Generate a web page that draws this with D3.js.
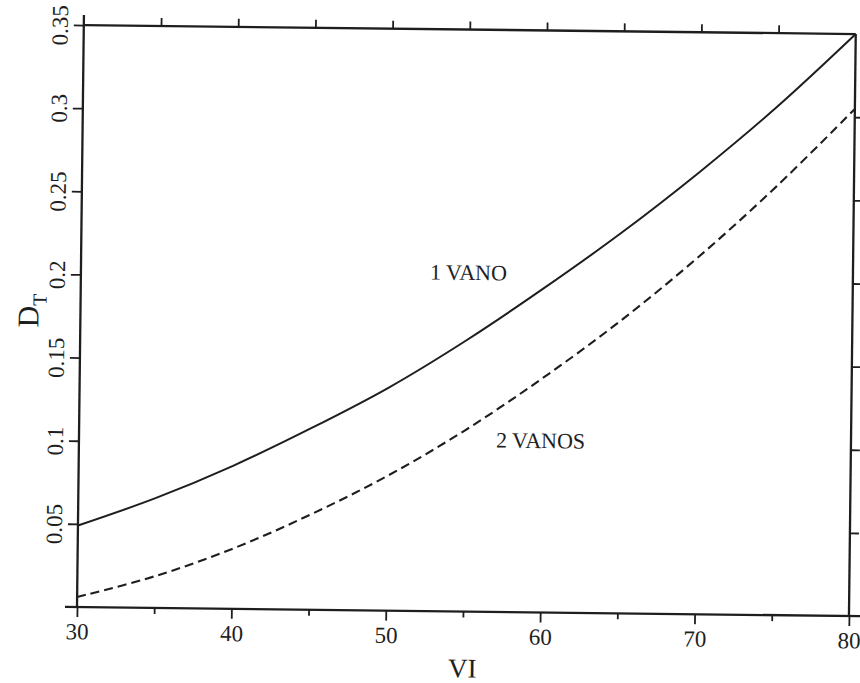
<!DOCTYPE html>
<html>
<head>
<meta charset="utf-8">
<script src="https://cdn.jsdelivr.net/npm/d3@7"></script>
<style>
  html, body { margin: 0; padding: 0; background: #fff; }
  svg { display: block; }
  text { font-family: "Liberation Serif", "DejaVu Serif", serif; fill: #1e1e1e; }
</style>
</head>
<body>
<div id="chart"></div>
<script>
// VI values at which D_T was evaluated
const vi = [30, 35, 40, 45, 50, 55, 60, 65, 70, 75, 80];
// D_T for a single span ("1 VANO")
const dt1Vano = [0.049, 0.066, 0.086, 0.109, 0.134, 0.163, 0.195, 0.229, 0.266, 0.306, 0.350];
// D_T for two spans ("2 VANOS")
const dt2Vanos = [0.006, 0.019, 0.036, 0.057, 0.081, 0.109, 0.141, 0.176, 0.215, 0.258, 0.305];

const xTicks = [30, 40, 50, 60, 70, 80];
const xMinorTicks = [35, 45, 55, 65, 75];
const yTicks = [0.05, 0.1, 0.15, 0.2, 0.25, 0.3, 0.35];
const yTickLabels = ["0.05", "0.1", "0.15", "0.2", "0.25", "0.3", "0.35"];

const W = 860, H = 683;
const plotW = 772, plotH = 582;
const ink = "#1e1e1e";

const svg = d3.select("#chart").append("svg")
  .attr("width", W).attr("height", H);

// the whole frame sits slightly skewed on the page
const g = svg.append("g")
  .attr("transform", "translate(77,607) rotate(0.67) translate(0,-582)");

const x = d3.scaleLinear().domain([30, 80]).range([0, plotW]);
const y = d3.scaleLinear().domain([0, 0.35]).range([plotH, 0]);

// ---- frame lines ----
const frame = g.append("g").attr("stroke", ink).attr("stroke-width", 2.3).attr("fill", "none");
frame.append("line").attr("x1", -12).attr("x2", plotW + 14).attr("y1", plotH).attr("y2", plotH); // bottom
frame.append("line").attr("x1", 0).attr("x2", 0).attr("y1", -10).attr("y2", plotH);             // left
frame.append("line").attr("x1", 0).attr("x2", plotW).attr("y1", 0).attr("y2", 0);                // top
frame.append("line").attr("x1", plotW).attr("x2", plotW).attr("y1", 0).attr("y2", plotH);        // right

// ---- bottom axis ----
const xAxis = d3.axisBottom(x).tickValues(xTicks).tickSize(10).tickPadding(6).tickFormat(d3.format("d"));
const xa = g.append("g").attr("transform", `translate(0,${plotH})`).call(xAxis);
xa.select(".domain").remove();
xa.selectAll(".tick line").attr("stroke", ink).attr("stroke-width", 1.8);
xa.selectAll(".tick text").attr("font-size", 23).attr("font-family", "Liberation Serif").attr("fill", ink);

const xMinor = d3.axisBottom(x).tickValues(xMinorTicks).tickSize(6).tickFormat("");
const xm = g.append("g").attr("transform", `translate(0,${plotH})`).call(xMinor);
xm.select(".domain").remove();
xm.selectAll(".tick line").attr("stroke", ink).attr("stroke-width", 1.8);

// ---- top ticks ----
const xTop = d3.axisTop(x).tickValues([35, 40, 45, 50, 55, 60, 65, 70, 75]).tickSize(8).tickFormat("");
const xt = g.append("g").call(xTop);
xt.select(".domain").remove();
xt.selectAll(".tick line").attr("stroke", ink).attr("stroke-width", 1.8);

// ---- left axis ----
const yAxis = d3.axisLeft(y).tickValues(yTicks).tickSize(10).tickPadding(4)
  .tickFormat((d, i) => yTickLabels[i]);
const ya = g.append("g").call(yAxis);
ya.select(".domain").remove();
ya.selectAll(".tick line").attr("stroke", ink).attr("stroke-width", 1.8);
ya.selectAll(".tick text")
  .attr("font-size", 23).attr("font-family", "Liberation Serif").attr("fill", ink)
  .attr("text-anchor", "middle")
  .attr("transform", "rotate(-90)")
  .attr("x", 0).attr("y", -16).attr("dy", 0);

// ---- right ticks ----
const yRight = d3.axisRight(y).tickValues([0.05, 0.1, 0.15, 0.2, 0.25, 0.3]).tickSize(9).tickFormat("");
const yr = g.append("g").attr("transform", `translate(${plotW},0)`).call(yRight);
yr.select(".domain").remove();
yr.selectAll(".tick line").attr("stroke", ink).attr("stroke-width", 1.8);

// ---- curves ----
const line = (vals) => d3.line()
  .x((d, i) => x(vi[i]))
  .y(d => y(d))
  .curve(d3.curveCatmullRom.alpha(0.5))(vals);

g.append("path").attr("d", line(dt1Vano))
  .attr("fill", "none").attr("stroke", ink).attr("stroke-width", 2);
g.append("path").attr("d", line(dt2Vanos))
  .attr("fill", "none").attr("stroke", ink).attr("stroke-width", 2.1)
  .attr("stroke-dasharray", "9,5");

// ---- curve labels ----
g.append("text").attr("x", x(55.1)).attr("y", y(0.2)).attr("dy", 1)
  .attr("font-size", 22).attr("text-anchor", "middle").text("1 VANO");
g.append("text").attr("x", x(59.9)).attr("y", y(0.1)).attr("dy", 2)
  .attr("font-size", 22).attr("text-anchor", "middle").text("2 VANOS");

// ---- axis titles ----
g.append("text").attr("x", x(55)).attr("y", plotH + 66)
  .attr("font-size", 27).attr("text-anchor", "middle").text("VI");

const yt = g.append("text")
  .attr("transform", `translate(-42,${y(0.178)}) rotate(-90)`)
  .attr("text-anchor", "middle")
  .attr("font-size", 30);
yt.append("tspan").text("D");
yt.append("tspan").attr("font-size", 20).attr("dy", 8).text("T");
</script>
</body>
</html>
